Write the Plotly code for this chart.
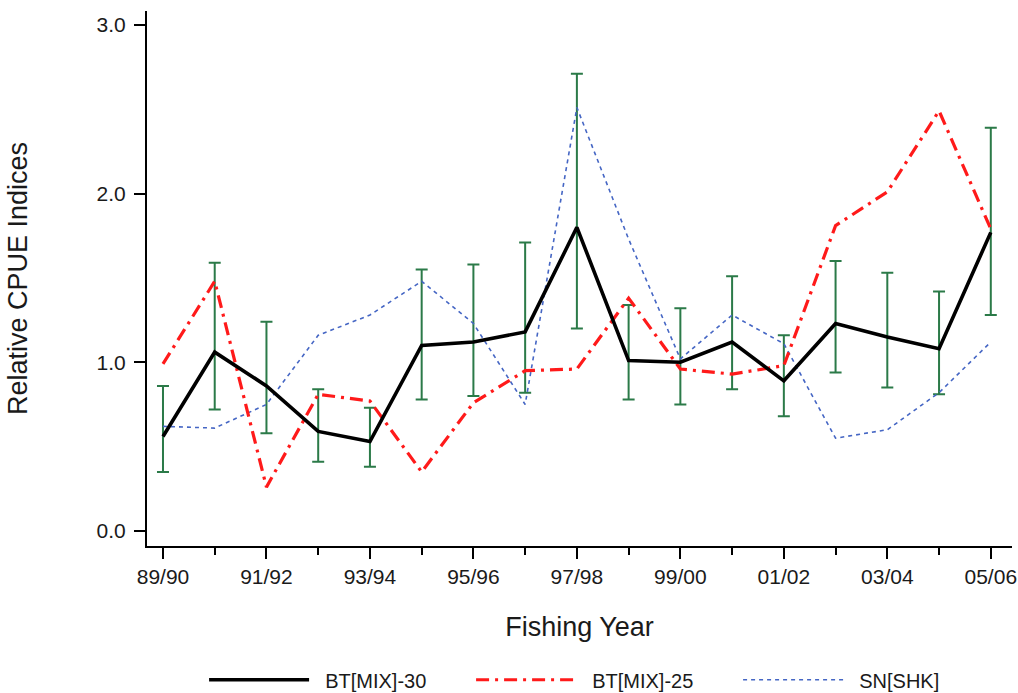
import plotly.graph_objects as go

years = ["89/90", "90/91", "91/92", "92/93", "93/94", "94/95", "95/96", "96/97",
         "97/98", "98/99", "99/00", "00/01", "01/02", "02/03", "03/04", "04/05", "05/06"]

bt_mix_30 = [0.56, 1.06, 0.86, 0.59, 0.53, 1.10, 1.12, 1.18, 1.80, 1.01, 1.00, 1.12,
             0.89, 1.23, 1.15, 1.08, 1.77]
bt_mix_30_upper = [0.86, 1.59, 1.24, 0.84, 0.73, 1.55, 1.58, 1.71, 2.71, 1.34, 1.32, 1.51,
                   1.16, 1.60, 1.53, 1.42, 2.39]
bt_mix_30_lower = [0.35, 0.72, 0.58, 0.41, 0.38, 0.78, 0.80, 0.82, 1.20, 0.78, 0.75, 0.84,
                   0.68, 0.94, 0.85, 0.81, 1.28]
bt_mix_25 = [0.99, 1.48, 0.26, 0.81, 0.77, 0.35, 0.76, 0.95, 0.96, 1.38, 0.96, 0.93,
             0.98, 1.81, 2.01, 2.49, 1.79]
sn_shk = [0.62, 0.61, 0.75, 1.16, 1.28, 1.48, 1.23, 0.75, 2.51, 1.73, 1.02, 1.28,
          1.11, 0.55, 0.60, 0.82, 1.12]

tick_labels = years[::2]
series_names = ["BT[MIX]-30", "BT[MIX]-25", "SN[SHK]"]

idx = list(range(len(years)))
pad = "\u00a0" * 2

fig = go.Figure()

# error bars for BT[MIX]-30 (drawn first so the lines sit on top)
fig.add_trace(go.Scatter(
    x=idx, y=bt_mix_30, mode="markers",
    marker=dict(size=0.1, color="rgba(0,0,0,0)"),
    error_y=dict(type="data", symmetric=False,
                 array=[u - v for u, v in zip(bt_mix_30_upper, bt_mix_30)],
                 arrayminus=[v - l for v, l in zip(bt_mix_30, bt_mix_30_lower)],
                 color="#2b7a48", thickness=2, width=6),
    showlegend=False, hoverinfo="skip"))

fig.add_trace(go.Scatter(
    x=idx, y=sn_shk, mode="lines", name=pad + series_names[2],
    line=dict(color="#4566c4", width=1.6, dash="4px,4px")))

fig.add_trace(go.Scatter(
    x=idx, y=bt_mix_25, mode="lines", name=pad + series_names[1],
    line=dict(color="#ff1a1a", width=3.2, dash="13px,6px,3px,6px")))

fig.add_trace(go.Scatter(
    x=idx, y=bt_mix_30, mode="lines", name=pad + series_names[0],
    line=dict(color="black", width=3.6)))

font_family = "Liberation Sans, Arial, sans-serif"

fig.update_layout(
    width=1018, height=693,
    paper_bgcolor="white", plot_bgcolor="white",
    margin=dict(l=147, r=6, t=11, b=147, autoexpand=False),
    font=dict(family=font_family, color="#1a1a1a", size=20),
    showlegend=True,
    legend=dict(orientation="h", x=0.529, xanchor="center", y=-0.25, yanchor="middle",
                traceorder="reversed", itemwidth=100, entrywidth=152,
                font=dict(size=20, family=font_family)),
    xaxis=dict(range=[-0.309, 16.41], showgrid=False, zeroline=False,
               showline=True, linecolor="black", linewidth=2,
               tickmode="array", tickvals=idx[::2], ticktext=tick_labels,
               ticks="outside", ticklen=11, tickwidth=2, tickcolor="black",
               minor=dict(tickmode="array", tickvals=idx[1::2], ticks="outside",
                          ticklen=7, tickwidth=2, tickcolor="black"),
               tickfont=dict(size=21),
               title=dict(text="Fishing Year", font=dict(size=27), standoff=30)),
    yaxis=dict(range=[-0.089, 3.082], showgrid=False, zeroline=False,
               showline=True, linecolor="black", linewidth=2,
               tickmode="array", tickvals=[0, 1, 2, 3],
               ticktext=["0.0", "1.0", "2.0", "3.0"],
               ticks="outside", ticklen=11, tickwidth=2, tickcolor="black",
               ticklabelstandoff=4,
               tickfont=dict(size=21),
               title=dict(text="Relative CPUE Indices", font=dict(size=27), standoff=61)),
)

fig.write_html("out.html", config={"displayModeBar": False},
               post_script="document.body.style.margin='0';")
